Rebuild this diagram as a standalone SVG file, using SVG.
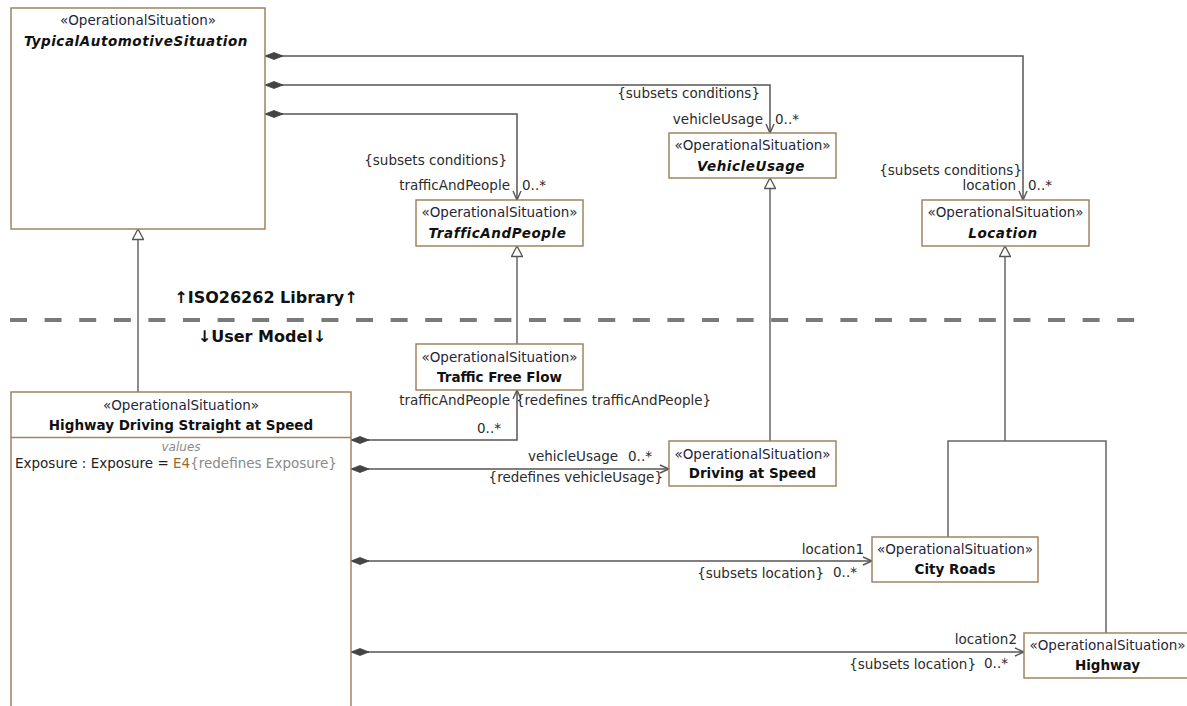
<svg xmlns="http://www.w3.org/2000/svg" width="1187" height="706" viewBox="0 0 1187 706">
<style>
text{font-family:"DejaVu Sans","Liberation Sans",sans-serif;font-size:13.5px;fill:#222}
.box{fill:#fff;stroke:#a08462;stroke-width:1.5}
.st{text-anchor:middle;fill:#1f2638}
.nm{text-anchor:middle;font-weight:bold;fill:#111}
.ab{font-style:italic;letter-spacing:0.55px}
.lbl{fill:#2b2b2b}
.e{text-anchor:end}
.c{stroke:#555;stroke-width:1.5;fill:none}
.g{stroke:#666;stroke-width:1.5;fill:none}
.sep{stroke:#7a7a7a;stroke-width:4;stroke-dasharray:17 17.6;fill:none}
.ttl{font-weight:bold;font-size:16px;text-anchor:middle;fill:#111}
</style>
<defs>
<marker id="dia" markerUnits="userSpaceOnUse" viewBox="0 0 18 8" refX="0" refY="4" markerWidth="18" markerHeight="8" orient="auto">
<path d="M0,4 L9,0.5 L18,4 L9,7.5 Z" fill="#444" stroke="#444" stroke-width="0.8"/>
</marker>
<marker id="arr" markerUnits="userSpaceOnUse" viewBox="0 0 10 10" refX="10" refY="5" markerWidth="10" markerHeight="10" orient="auto">
<path d="M1,1 L10,5 L1,9" fill="none" stroke="#555" stroke-width="1.4"/>
</marker>
<marker id="tri" markerUnits="userSpaceOnUse" viewBox="0 0 12 12" refX="11.5" refY="6" markerWidth="12" markerHeight="12" orient="auto">
<path d="M1,0.5 L11.5,6 L1,11.5 Z" fill="#fff" stroke="#555" stroke-width="1.3"/>
</marker>
</defs>

<g id="separator">
<line class="sep" x1="10" y1="320" x2="1139" y2="320"/>
<text class="ttl" x="266" y="303">↑ISO26262 Library↑</text>
<text class="ttl" x="262" y="342">↓User Model↓</text>
</g>

<g id="connectors">
<path class="g" d="M138,392 V229" marker-end="url(#tri)"/>
<path class="g" d="M517,344 V246" marker-end="url(#tri)"/>
<path class="g" d="M770,441 V178" marker-end="url(#tri)"/>
<path class="g" d="M948,537 V441 H1106 V633"/>
<path class="g" d="M1005,441 V246" marker-end="url(#tri)"/>

<path class="c" d="M265,56 H1023 V200" marker-start="url(#dia)" marker-end="url(#arr)"/>
<path class="c" d="M265,85 H770 V133" marker-start="url(#dia)" marker-end="url(#arr)"/>
<path class="c" d="M265,114 H517 V200" marker-start="url(#dia)" marker-end="url(#arr)"/>
<path class="c" d="M351,440 H517 V390" marker-start="url(#dia)" marker-end="url(#arr)"/>
<path class="c" d="M351,469 H669" marker-start="url(#dia)" marker-end="url(#arr)"/>
<path class="c" d="M351,561 H872" marker-start="url(#dia)" marker-end="url(#arr)"/>
<path class="c" d="M351,652 H1024" marker-start="url(#dia)" marker-end="url(#arr)"/>

<text class="lbl e" x="760" y="98">{subsets conditions}</text>
<text class="lbl e" x="763" y="124">vehicleUsage</text>
<text class="lbl" x="775" y="124">0..*</text>

<text class="lbl e" x="507" y="165">{subsets conditions}</text>
<text class="lbl e" x="510" y="190">trafficAndPeople</text>
<text class="lbl" x="522" y="190">0..*</text>

<text class="lbl e" x="1022" y="175">{subsets conditions}</text>
<text class="lbl e" x="1016" y="190">location</text>
<text class="lbl" x="1028" y="190">0..*</text>

<text class="lbl e" x="510" y="405">trafficAndPeople</text>
<text class="lbl" x="516" y="405">{redefines trafficAndPeople}</text>
<text class="lbl" x="477" y="433">0..*</text>

<text class="lbl" x="528" y="461">vehicleUsage</text>
<text class="lbl" x="628" y="461">0..*</text>
<text class="lbl e" x="663" y="482">{redefines vehicleUsage}</text>

<text class="lbl e" x="864" y="554">location1</text>
<text class="lbl e" x="824" y="578">{subsets location}</text>
<text class="lbl" x="833" y="577">0..*</text>

<text class="lbl e" x="1017" y="644">location2</text>
<text class="lbl e" x="976" y="669">{subsets location}</text>
<text class="lbl" x="984" y="668">0..*</text>
</g>

<g id="TypicalAutomotiveSituation">
<rect class="box" x="11" y="8" width="254" height="221"/>
<text class="st" x="138" y="25">«OperationalSituation»</text>
<text class="nm ab" x="136" y="46">TypicalAutomotiveSituation</text>
</g>

<g id="TrafficAndPeople">
<rect class="box" x="416" y="200" width="167" height="46"/>
<text class="st" x="499.5" y="217">«OperationalSituation»</text>
<text class="nm ab" x="497.5" y="238">TrafficAndPeople</text>
</g>

<g id="VehicleUsage">
<rect class="box" x="669" y="133" width="167" height="45"/>
<text class="st" x="752.5" y="150">«OperationalSituation»</text>
<text class="nm ab" x="751" y="171">VehicleUsage</text>
</g>

<g id="Location">
<rect class="box" x="922" y="200" width="167" height="46"/>
<text class="st" x="1005.5" y="217">«OperationalSituation»</text>
<text class="nm ab" x="1003" y="238">Location</text>
</g>

<g id="TrafficFreeFlow">
<rect class="box" x="416" y="344" width="167" height="46"/>
<text class="st" x="499.5" y="362">«OperationalSituation»</text>
<text class="nm" x="499.5" y="382">Traffic Free Flow</text>
</g>

<g id="DrivingAtSpeed">
<rect class="box" x="669" y="441" width="167" height="45"/>
<text class="st" x="752.5" y="459">«OperationalSituation»</text>
<text class="nm" x="752.5" y="478">Driving at Speed</text>
</g>

<g id="CityRoads">
<rect class="box" x="872" y="537" width="166" height="45"/>
<text class="st" x="955" y="554">«OperationalSituation»</text>
<text class="nm" x="955" y="574">City Roads</text>
</g>

<g id="Highway">
<rect class="box" x="1024" y="633" width="167" height="45"/>
<text class="st" x="1107.5" y="650">«OperationalSituation»</text>
<text class="nm" x="1107.5" y="670">Highway</text>
</g>

<g id="HighwayDrivingStraightAtSpeed">
<rect class="box" x="11" y="392" width="340" height="330"/>
<line x1="11" y1="437.5" x2="351" y2="437.5" stroke="#a08462" stroke-width="1.5"/>
<text class="st" x="181" y="410">«OperationalSituation»</text>
<text class="nm" x="181" y="430">Highway Driving Straight at Speed</text>
<text x="181" y="451" text-anchor="middle" style="fill:#8a8a8a;font-size:12px;font-style:italic">values</text>
<text x="15" y="468">Exposure : Exposure = <tspan style="fill:#9a6a2c">E4</tspan><tspan style="fill:#8a8a8a">{redefines Exposure}</tspan></text>
</g>
</svg>
